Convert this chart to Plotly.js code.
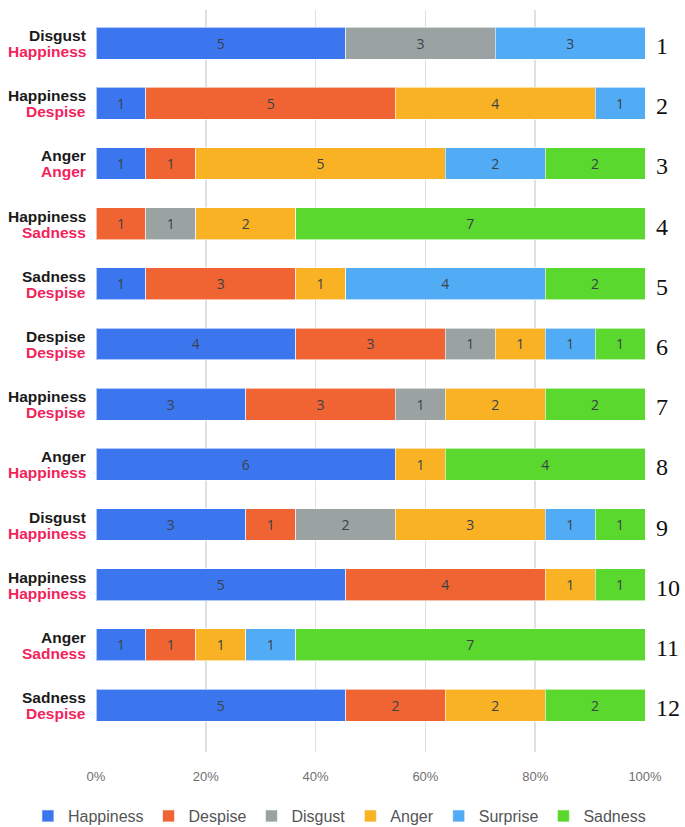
<!DOCTYPE html>
<html><head><meta charset="utf-8">
<script src="https://cdn.plot.ly/plotly-3.0.1.min.js"></script>
<style>body{margin:0;background:#fff}#c{width:685px;height:827px}</style>
</head><body><div id="c"></div>
<script>
const rows = ['1','2','3','4','5','6','7','8','9','10','11','12'];
const topLabels = ['Disgust','Happiness','Anger','Happiness','Sadness','Despise','Happiness','Anger','Disgust','Happiness','Anger','Sadness'];
const bottomLabels = ['Happiness','Despise','Anger','Sadness','Despise','Despise','Despise','Happiness','Happiness','Happiness','Sadness','Despise'];
const happiness = [5,1,1,0,1,4,3,6,3,5,1,5];
const despise   = [0,5,1,1,3,3,3,0,1,4,1,2];
const disgust   = [3,0,0,1,0,1,1,0,2,0,0,0];
const anger     = [0,4,5,2,1,1,2,1,3,1,1,2];
const surprise  = [3,1,2,0,4,1,0,0,1,0,1,0];
const sadness   = [0,0,2,7,2,1,2,4,1,1,7,2];
const xTicks = [0,20,40,60,80,100];
const xTickText = ['0%','20%','40%','60%','80%','100%'];

const series = [
  {name:'Happiness', v:happiness, c:'#3b76ef'},
  {name:'Despise', v:despise, c:'#f06434'},
  {name:'Disgust', v:disgust, c:'#9aa3a1'},
  {name:'Anger', v:anger, c:'#f9b224'},
  {name:'Surprise', v:surprise, c:'#52abf5'},
  {name:'Sadness', v:sadness, c:'#5bd82e'}
];
const traces = series.map(s => ({
  type:'bar', orientation:'h', name:s.name, y:rows,
  x:s.v.map(v => v===0 ? null : v),
  text:s.v.map(v => v===0 ? '' : String(v)),
  textposition:'inside', insidetextanchor:'middle',
  textfont:{color:'#3a4248', size:14, family:'Open Sans, Liberation Sans, sans-serif'},
  marker:{color:s.c, line:{color:'rgba(255,255,255,0.6)', width:1}},
  width:0.53, hoverinfo:'none'
}));

const ann = [];
rows.forEach((r,i) => {
  ann.push({x:0, xref:'paper', y:i, yref:'y', xanchor:'right', yanchor:'middle', xshift:-8, yshift:7.5,
    text:'<b>'+topLabels[i]+'</b>', showarrow:false,
    font:{family:'Liberation Sans, Arial, sans-serif', size:15.5, color:'#1a1a1a'}});
  ann.push({x:0, xref:'paper', y:i, yref:'y', xanchor:'right', yanchor:'middle', xshift:-8, yshift:-8.5,
    text:'<b>'+bottomLabels[i]+'</b>', showarrow:false,
    font:{family:'Liberation Sans, Arial, sans-serif', size:15.5, color:'#f2235c'}});
  ann.push({x:1, xref:'paper', y:i, yref:'y', xanchor:'left', yanchor:'middle', xshift:9, yshift:-3,
    text:r, showarrow:false,
    font:{family:'Liberation Serif, Times New Roman, serif', size:24, color:'#111'}});
});

const layout = {
  width:685, height:827,
  margin:{l:96, r:40, t:10, b:75, autoexpand:false},
  paper_bgcolor:'#fff', plot_bgcolor:'#fff',
  barmode:'stack', barnorm:'percent',
  showlegend:true,
  legend:{orientation:'h', x:-0.124, xanchor:'left', y:-0.0863, yanchor:'middle',
    font:{family:'Liberation Sans, Arial, sans-serif', size:16, color:'#555'},
    itemwidth:30, traceorder:'normal', bgcolor:'rgba(0,0,0,0)'},
  xaxis:{range:[0,100], tickvals:xTicks, ticktext:xTickText, showgrid:true, gridcolor:'#dce1e4', gridwidth:1.5,
    zeroline:false, showline:false, ticks:'outside', ticklen:12, tickcolor:'rgba(0,0,0,0)',
    tickfont:{family:'Liberation Sans, Arial, sans-serif', size:13, color:'#707070'}, fixedrange:true},
  yaxis:{type:'category', categoryorder:'array', categoryarray:rows, range:[11.78,-0.55], showticklabels:false,
    showgrid:false, zeroline:false, showline:false, ticks:'', fixedrange:true},
  annotations:ann
};
Plotly.newPlot('c', traces, layout, {staticPlot:true, displayModeBar:false});
</script>
</body></html>
